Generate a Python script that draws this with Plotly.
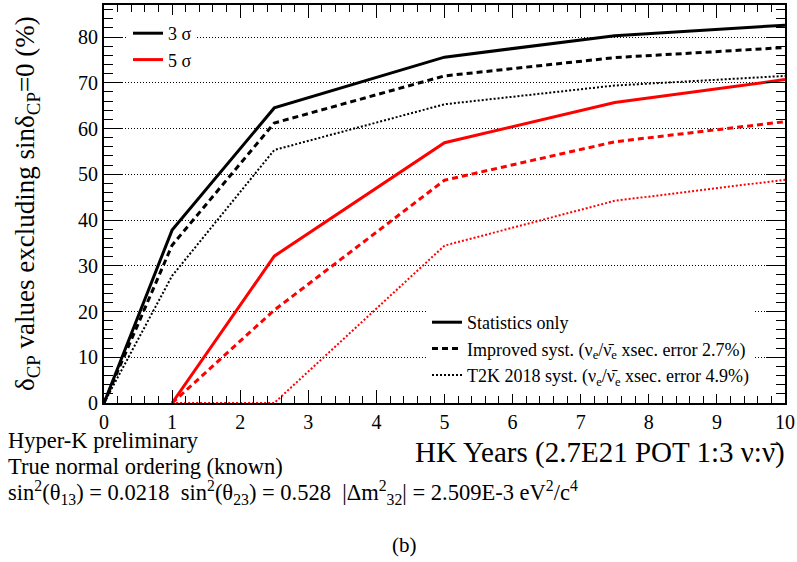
import plotly.graph_objects as go

# ---------------- data ----------------
years_3s = [0, 1, 2.5, 5, 7.5, 10]
stat_3s = [0, 37.8, 64.5, 75.6, 80.3, 82.6]
impr_3s = [0, 34.5, 61.2, 71.5, 75.5, 77.7]
t2k_3s = [0, 27.8, 55.3, 65.3, 69.4, 71.5]

years_5s = [1, 2.5, 5, 7.5, 10]
stat_5s = [0, 32.1, 56.9, 65.7, 70.7]
impr_5s = [0, 20.3, 48.7, 57.1, 61.5]
t2k_5s = [0, 0, 34.4, 44.2, 48.8]

x_ticks = list(range(0, 11))
y_ticks = list(range(0, 90, 10))

FONT = "Liberation Serif"
W, H = 797, 562
def px(x): return x / W
def py(y): return 1 - y / H

fig = go.Figure()

series = [
    (years_3s, stat_3s, "black", "solid", 3),
    (years_3s, impr_3s, "black", "6px,4px", 3),
    (years_3s, t2k_3s, "black", "2px,2px", 2),
    (years_5s, stat_5s, "#ff0000", "solid", 3),
    (years_5s, impr_5s, "#ff0000", "6px,4px", 3),
    (years_5s, t2k_5s, "#ff0000", "2px,2px", 2),
]
for xs, ys, c, d, w in series:
    fig.add_trace(go.Scatter(x=xs, y=ys, mode="lines", showlegend=False,
                             line=dict(color=c, dash=d, width=w)))

# legend 1 (sigma levels)
fig.add_trace(go.Scatter(x=[None], y=[None], mode="lines", name="3 σ",
                         line=dict(color="black", width=3), legend="legend"))
fig.add_trace(go.Scatter(x=[None], y=[None], mode="lines", name="5 σ",
                         line=dict(color="#ff0000", width=3), legend="legend"))
# legend 2 (systematics)
leg2 = [
    ("Statistics only", "solid", 3),
    ("Improved syst. (ν<sub>e</sub>/ν̄<sub>e</sub> xsec. error 2.7%)", "6px,4px", 3),
    ("T2K 2018 syst. (ν<sub>e</sub>/ν̄<sub>e</sub> xsec. error 4.9%)", "2px,2px", 2),
]
for nm, d, w in leg2:
    fig.add_trace(go.Scatter(x=[None], y=[None], mode="lines", name=nm,
                             line=dict(color="black", dash=d, width=w), legend="legend2"))

axis_common = dict(
    showline=True, linecolor="black", linewidth=2, mirror="allticks",
    ticks="inside", tickcolor="black", tickwidth=1,
    tickfont=dict(family=FONT, size=20, color="black"),
    zeroline=False,
)

fig.update_xaxes(
    **axis_common, range=[0, 10], tickvals=x_ticks, ticklen=13,
    minor=dict(dtick=0.2, ticks="inside", ticklen=7, tickcolor="black", showgrid=False),
    showgrid=False, domain=[px(104), px(785)],
)
fig.update_yaxes(
    **axis_common, range=[0, 87], tickvals=y_ticks, ticklen=19,
    minor=dict(dtick=2, ticks="inside", ticklen=9, tickcolor="black", showgrid=False),
    showgrid=True, gridcolor="black", gridwidth=1, griddash="1px,2px",
    domain=[1 - 403 / H, 1 - 5 / H],
)

NB = "\u00a0\u00a0"
annotations = [
    dict(text="δ<sub>CP</sub> values excluding sinδ<sub>CP</sub>=0 (%)", x=px(27), y=py(204),
         textangle=-90, size=27),
    dict(text="HK Years (2.7E21 POT 1:3 ν:ν̄)", x=px(787), y=py(452), xanchor="right", size=29),
    dict(text="Hyper-K preliminary", x=px(6), y=py(440), xanchor="left", size=22.5),
    dict(text="True normal ordering (known)", x=px(6), y=py(466), xanchor="left", size=22.5),
    dict(text="sin<sup>2</sup>(θ<sub>13</sub>) = 0.0218" + NB + "sin<sup>2</sup>(θ<sub>23</sub>) = 0.528" + NB +
              "|Δm<sup>2</sup><sub>32</sub>| = 2.509E-3 eV<sup>2</sup>/c<sup>4</sup>",
         x=px(6), y=py(492), xanchor="left", size=22.5),
    dict(text="(b)", x=px(404), y=py(545), size=21),
]
for a in annotations:
    size = a.pop("size")
    a.setdefault("xanchor", "center")
    fig.add_annotation(xref="paper", yref="paper", showarrow=False, yanchor="middle",
                       font=dict(family=FONT, color="black", size=size), **a)

fig.update_layout(
    width=W, height=H,
    margin=dict(l=0, r=0, t=0, b=0, autoexpand=False),
    paper_bgcolor="white", plot_bgcolor="white",
    font=dict(family=FONT, color="black"),
    legend=dict(x=px(128), y=py(15), xanchor="left", yanchor="top",
                bgcolor="white", borderwidth=0, tracegroupgap=0,
                font=dict(family=FONT, size=18, color="black")),
    legend2=dict(x=px(427), y=py(304), xanchor="left", yanchor="top",
                 bgcolor="white", borderwidth=0, tracegroupgap=0,
                 font=dict(family=FONT, size=18, color="black")),
)

fig.write_html("out.html")
